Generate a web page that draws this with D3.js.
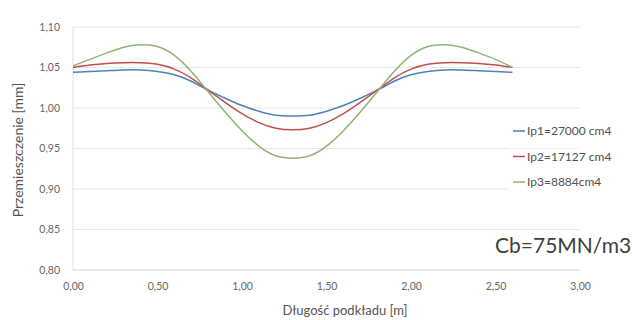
<!DOCTYPE html>
<html>
<head>
<meta charset="utf-8">
<script src="https://cdn.jsdelivr.net/npm/d3@7"></script>
<style>
  body { margin: 0; background: #fff; }
  text { font-family: Lato, "Open Sans", sans-serif; }
</style>
</head>
<body>
<div id="chart"></div>
<script>
// position along the sleeper [m]
const xs = [0, 0.1, 0.2, 0.3, 0.4, 0.5, 0.6, 0.7, 0.8, 0.9, 1.0, 1.1, 1.2, 1.3,
  1.4, 1.5, 1.6, 1.7, 1.8, 1.9, 2.0, 2.1, 2.2, 2.3, 2.4, 2.5, 2.6];

const ip1 = [1.044, 1.045, 1.046, 1.047, 1.047, 1.045, 1.041, 1.033, 1.022, 1.012, 1.003, 0.996, 0.991, 0.990,
  0.991, 0.996, 1.003, 1.012, 1.022, 1.033, 1.041, 1.045, 1.047, 1.047, 1.046, 1.045, 1.044];
const ip2 = [1.050, 1.053, 1.055, 1.056, 1.056, 1.054, 1.048, 1.037, 1.022, 1.007, 0.993, 0.982, 0.975, 0.973,
  0.975, 0.982, 0.993, 1.007, 1.022, 1.037, 1.048, 1.054, 1.056, 1.056, 1.055, 1.053, 1.050];
const ip3 = [1.052, 1.060, 1.068, 1.075, 1.078, 1.076, 1.065, 1.045, 1.020, 0.995, 0.972, 0.953, 0.941, 0.938,
  0.941, 0.953, 0.972, 0.995, 1.020, 1.045, 1.065, 1.076, 1.078, 1.075, 1.068, 1.060, 1.050];

const seriesNames = ['Ip1=27000 cm4', 'Ip2=17127 cm4', 'Ip3=8884cm4'];
const xTicks = [0, 0.5, 1.0, 1.5, 2.0, 2.5, 3.0];
const yTicks = [0.80, 0.85, 0.90, 0.95, 1.00, 1.05, 1.10];

const width = 632, height = 320;
const margin = { top: 27, right: 52, bottom: 50, left: 73 };
const colors = ['#4f81bd', '#c0504d', '#8fb374'];

const svg = d3.select('#chart')
  .append('svg')
  .attr('width', width)
  .attr('height', height);

const x = d3.scaleLinear().domain([0, 3]).range([margin.left, width - margin.right]);
const y = d3.scaleLinear().domain([0.80, 1.10]).range([height - margin.bottom, margin.top]);

const fmt = d => d3.format('.2f')(d).replace('.', ',');

// horizontal grid
svg.append('g')
  .selectAll('line')
  .data(yTicks)
  .join('line')
  .attr('x1', x(0))
  .attr('x2', x(3))
  .attr('y1', d => y(d))
  .attr('y2', d => y(d))
  .attr('stroke', d => d === 0.80 ? '#d0d0d0' : '#e6e6e6')
  .attr('stroke-width', 1);

// left axis line
svg.append('line')
  .attr('x1', x(0)).attr('x2', x(0))
  .attr('y1', y(0.80)).attr('y2', y(1.10))
  .attr('stroke', '#e0e0e0');

// axes (labels only)
const yAxis = svg.append('g')
  .attr('transform', `translate(${x(0) - 10},0)`)
  .call(d3.axisLeft(y).tickValues(yTicks).tickFormat(fmt).tickSize(0));
const xAxis = svg.append('g')
  .attr('transform', `translate(0,${y(0.80) + 10})`)
  .call(d3.axisBottom(x).tickValues(xTicks).tickFormat(fmt).tickSize(0));
[yAxis, xAxis].forEach(a => {
  a.select('.domain').remove();
  a.selectAll('text')
    .attr('fill', '#666')
    .style('font-size', '10.5px')
    .style('font-family', 'Lato, "Open Sans", sans-serif');
});

// curves
const line = d3.line()
  .x((d, i) => x(xs[i]))
  .y(d => y(d))
  .curve(d3.curveNatural);

svg.append('g')
  .selectAll('path')
  .data([ip1, ip2, ip3])
  .join('path')
  .attr('d', line)
  .attr('fill', 'none')
  .attr('stroke', (d, i) => colors[i])
  .attr('stroke-width', 1.5);

// axis titles
svg.append('text')
  .attr('x', 345)
  .attr('y', 315)
  .attr('text-anchor', 'middle')
  .attr('fill', '#555')
  .style('font-size', '13px')
  .text('Długość podkładu [m]');

svg.append('text')
  .attr('transform', 'translate(23,150) rotate(-90)')
  .attr('text-anchor', 'middle')
  .attr('fill', '#555')
  .style('font-size', '14px')
  .text('Przemieszczenie [mm]');

// legend
const legend = svg.append('g').attr('transform', 'translate(513,131)');
const item = legend.selectAll('g')
  .data(seriesNames)
  .join('g')
  .attr('transform', (d, i) => `translate(0,${i * 25.5})`);
item.append('rect')
  .attr('x', -4).attr('y', -8).attr('width', 110).attr('height', 16)
  .attr('fill', '#fff');
item.append('line')
  .attr('x1', 0).attr('x2', 12)
  .attr('stroke', (d, i) => colors[i])
  .attr('stroke-width', 1.5);
item.append('text')
  .attr('x', 14)
  .attr('dy', '0.35em')
  .attr('fill', '#505050')
  .style('font-size', '12px')
  .text(d => d);

// annotation
svg.append('text')
  .attr('x', 495)
  .attr('y', 253)
  .attr('fill', '#404040')
  .style('font-size', '21px')
  .text('Cb=75MN/m3');
</script>
</body>
</html>
